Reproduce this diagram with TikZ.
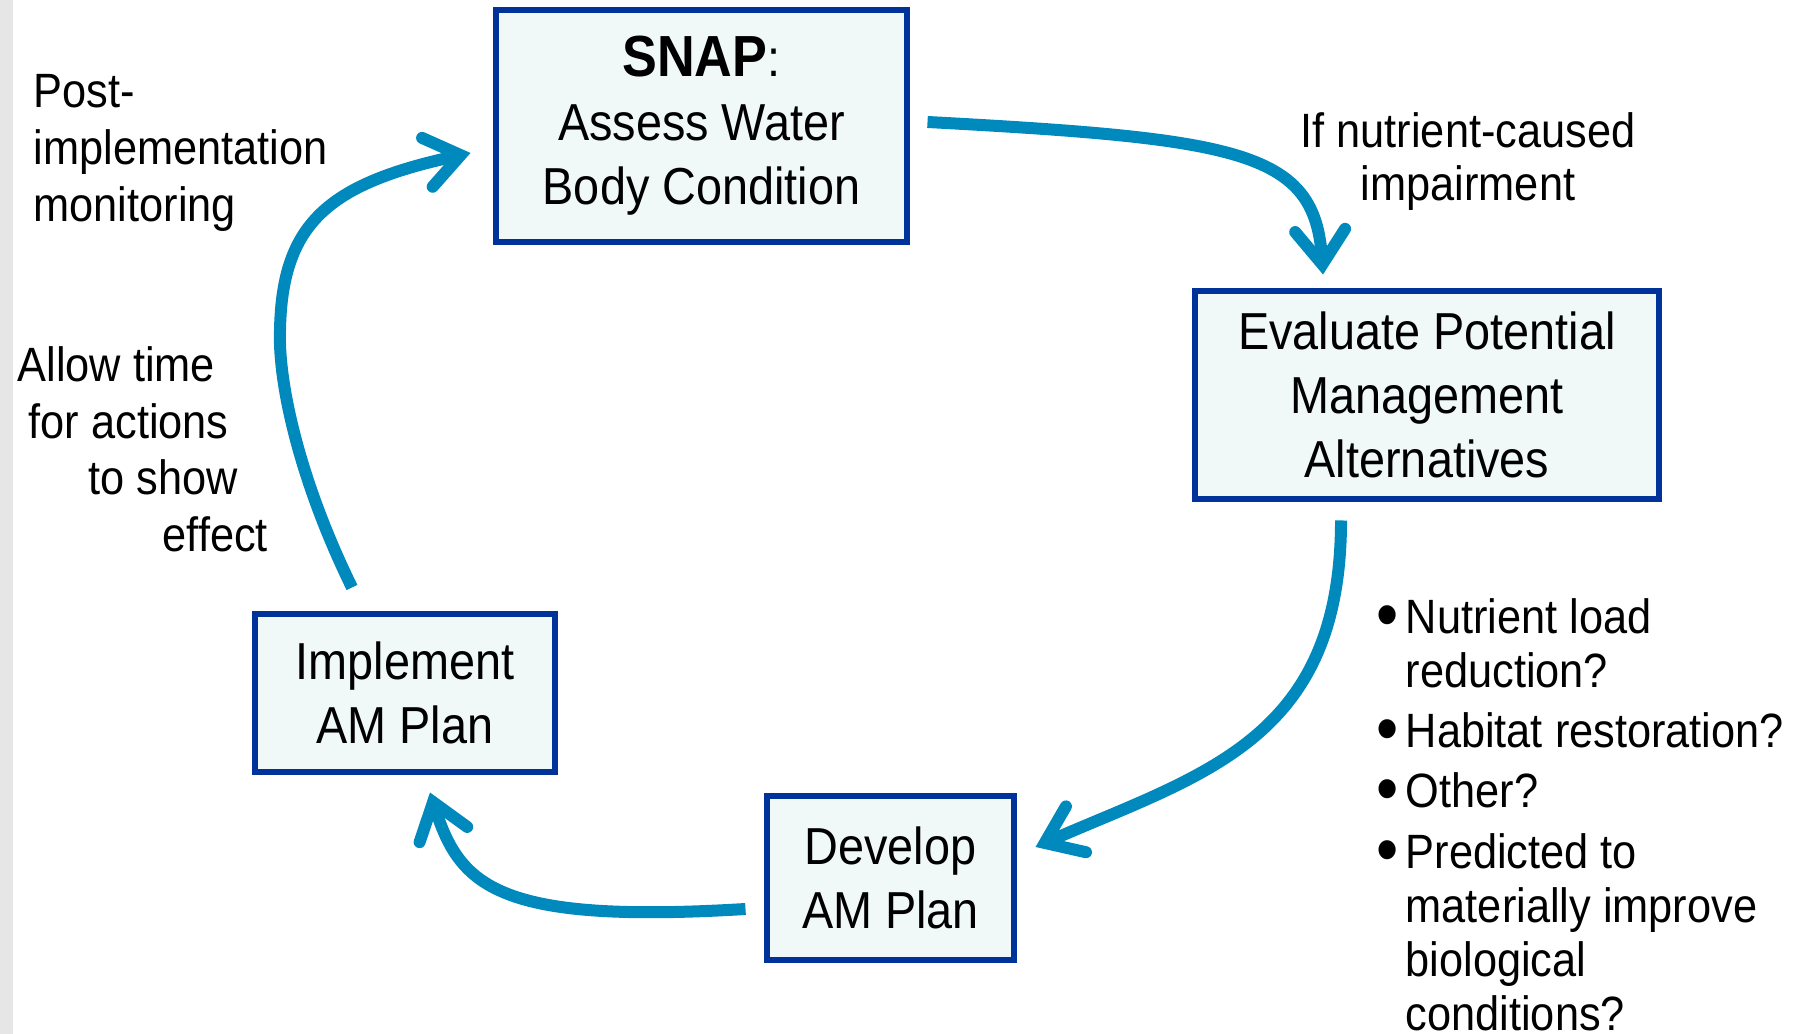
\documentclass[tikz,border=0pt]{standalone}
\usepackage{fontspec}
\setmainfont{Liberation Sans}[FakeStretch=0.9]
\usepackage{xcolor}
\usepackage{tikz}
\usetikzlibrary{arrows.meta, positioning}
\definecolor{boxfill}{RGB}{240,248,248}
\definecolor{boxline}{RGB}{0,51,153}
\definecolor{cycleblue}{RGB}{0,137,188}
\definecolor{stripgray}{RGB}{230,230,230}
\tikzstyle{arrow} = [line width=1.2mm, draw=cycleblue,
                     -{Straight Barb[length=3.4mm, width=5mm, line cap=round]}]
\tikzset{every node/.style={align=center}}
\newcommand{\itembul}{\makebox[0.29cm][l]{\raisebox{-0.05cm}{\fontsize{20}{0}\selectfont\textbullet}}}

\begin{document}
\begin{tikzpicture}[
    stage/.style={rectangle, draw=boxline, line width=0.6mm, fill=boxfill,
                  inner sep=0pt, font=\fontsize{14.8}{18.2}\selectfont},
    note/.style={inner sep=0pt, font=\fontsize{13.7}{16.2}\selectfont}
]
  \useasboundingbox (0,0) rectangle (18.02,10.34);
  \fill[stripgray] (0,0) rectangle (0.13,10.34);

  % --- the four stages of the cycle ---
  \node[stage, minimum width=4.11cm, minimum height=2.32cm] (SNAP) at (7.015,9.08)
       {{\bfseries\fontsize{16.5}{18}\selectfont SNAP}:\\Assess Water\\Body Condition};
  \node[stage, minimum width=4.64cm, minimum height=2.08cm] (EVAL) at (14.27,6.39)
       {Evaluate Potential\\Management\\Alternatives};
  \node[stage, minimum width=2.47cm, minimum height=1.64cm] (DEV)  at (8.905,1.56)
       {Develop\\AM Plan};
  \node[stage, minimum width=3.00cm, minimum height=1.58cm] (IMPL) at (4.05,3.41)
       {Implement\\AM Plan};

  % --- side notes ---
  \node[note, anchor=north west, align=left] (POST) at (0.33,9.60)
       {Post-\\implementation\\monitoring};
  \node[note, anchor=north west, align=left] (WAIT) at (0.17,6.885)
       {Allow time\\\hspace*{0.11cm}for actions\\\hspace*{0.71cm}to show\\\hspace*{1.45cm}effect};
  \node[note, anchor=north, font=\fontsize{13.7}{15.1}\selectfont] (IF) at (14.68,9.22)
       {If nutrient-caused\\impairment};
  \node[note, anchor=north west, align=left, font=\fontsize{13.7}{15.4}\selectfont] (ALTS) at (13.76,4.36)
       {\itembul Nutrient load\\\hspace*{0.29cm}reduction?\\[1.7pt]
        \itembul Habitat restoration?\\[1.7pt]
        \itembul Other?\\[1.7pt]
        \itembul Predicted to\\\hspace*{0.29cm}materially improve\\\hspace*{0.29cm}biological\\\hspace*{0.29cm}conditions?};

  % --- arrows round the cycle ---
  \coordinate (a4m) at (2.80,7.04);
  \draw[arrow] ([shift={(0.175,0.04)}]SNAP.east)
       .. controls +(3.15,-0.17) and +(-0.08,1.23) .. ([shift={(-1.04,0.135)}]EVAL.north);
  \draw[arrow] ([shift={(-0.86,-0.185)}]EVAL.south)
       .. controls +(0,-2.2) and +(1.67,0.73) .. ([shift={(0.185,0.31)}]DEV.east);
  \draw[arrow] ([shift={(-0.185,-0.31)}]DEV.west)
       .. controls +(-2.48,-0.15) and +(0.3,-0.94) .. ([shift={(0.25,-0.175)}]IMPL.south);
  \draw[arrow] ([shift={(-0.53,0.235)}]IMPL.north)
       .. controls +(-0.52,1.06) and +(-0.02,-0.54) .. (a4m)
       .. controls +(0.02,1.06) and +(-1.43,-0.31) .. ([shift={(-0.225,-0.27)}]SNAP.west);
\end{tikzpicture}
\end{document}
